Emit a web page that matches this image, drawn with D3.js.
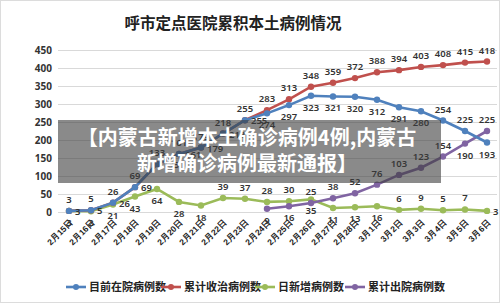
<!DOCTYPE html>
<html>
<head>
<meta charset="utf-8">
<script src="https://cdn.jsdelivr.net/npm/d3@7"></script>
<style>
  body { margin: 0; background: #fff; }
  svg { display: block; font-family: "Noto Sans CJK SC", "Noto Sans", sans-serif; }
</style>
</head>
<body>
<svg id="chart" width="500" height="303"></svg>
<script>
var dates = ["2月15日","2月16日","2月17日","2月18日","2月19日","2月20日","2月21日","2月22日","2月23日","2月24日",
             "2月25日","2月26日","2月27日","2月28日","3月1日","3月2日","3月3日","3月4日","3月5日","3月6日"];
var inHospital = [3,5,26,69,133,161,179,218,255,274,297,323,321,320,312,291,280,254,225,193];
var admitted   = [3,5,26,69,133,161,179,218,255,283,313,348,359,372,388,394,403,408,415,418];
var dailyNew   = [3,2,21,43,64,28,18,39,37,28,30,35,11,13,16,6,9,5,7,3];
var discharged = [null,null,null,null,null,null,null,null,null,9,16,25,38,52,76,103,123,154,190,225];
var yTicks = [0,50,100,150,200,250,300,350,400,450];
var seriesNames = ["目前在院病例数","累计收治病例数","日新增病例数","累计出院病例数"];
var title = "呼市定点医院累积本土病例情况";
var bannerLines = ["【内蒙古新增本土确诊病例4例,内蒙古", "新增确诊病例最新通报】"];

// where each point's label sits (u = above, d = below, r = right)
var placeBlue   = "rrrrrrrrrdddddddduud".split("");
var placeRed    = "uuuuuuuuuuuuuuuuuuuu".split("");
var placeGreen  = "ddddddduuuudddduuuur".split("");
var placePurple = "dduuuuuuudu".split("");  // only where a value exists

var colors = ["#4f81bd", "#c0504d", "#9bbb59", "#8064a2"];

var svg = d3.select("#chart"),
    width = +svg.attr("width"),
    height = +svg.attr("height");

svg.append("rect").attr("x", 0.5).attr("y", 0.5).attr("width", width - 1).attr("height", height - 1)
    .attr("fill", "#fff").attr("stroke", "#dcdcdc");

var x = d3.scalePoint().domain(dates).range([69, 487]);
var y = d3.scaleLinear().domain([0, 450]).range([212, 50]);

// title
svg.append("text").attr("x", 233).attr("y", 29).attr("text-anchor", "middle")
    .attr("font-size", 15.5).attr("font-weight", "bold").attr("fill", "#222").text(title);

// grid + y labels
var yAxis = d3.axisLeft(y).tickValues(yTicks).tickSize(-(497 - 58)).tickPadding(6);
var ga = svg.append("g").attr("transform", "translate(58,0)").call(yAxis);
ga.select(".domain").remove();
ga.selectAll(".tick line").attr("stroke", "#d9d9d9");
ga.selectAll(".tick text").attr("font-size", 10).attr("font-weight", "bold").attr("fill", "#333")
    .attr("font-family", "'Noto Sans', sans-serif");

// x labels, slanted
var xAxis = d3.axisBottom(x).tickSize(0).tickPadding(0);
var gx = svg.append("g").attr("transform", "translate(0,212)").call(xAxis);
gx.select(".domain").remove();
gx.selectAll(".tick text")
    .attr("font-size", 8.5).attr("font-weight", "bold").attr("fill", "#222")
    .attr("text-anchor", "end").attr("dy", null).attr("y", 0)
    .attr("transform", "translate(4,11) rotate(-45)");

var all = [inHospital, admitted, dailyNew, discharged];
var places = [placeBlue, placeRed, placeGreen, null];

var line = d3.line()
    .defined(function(d) { return d != null; })
    .x(function(d, i) { return x(dates[i]); })
    .y(function(d) { return y(d); });

function points(vals) {
    return vals.map(function(v, i) { return {v: v, i: i}; }).filter(function(d) { return d.v != null; });
}

[2, 3, 1, 0].forEach(function(k) {
    var g = svg.append("g");
    g.append("path").attr("d", line(all[k])).attr("fill", "none")
        .attr("stroke", colors[k]).attr("stroke-width", 2.6);
    g.selectAll("circle").data(points(all[k])).enter().append("circle")
        .attr("cx", function(d) { return x(dates[d.i]); })
        .attr("cy", function(d) { return y(d.v); })
        .attr("r", 3.2).attr("fill", colors[k]);
});

// data labels
[0, 1, 2, 3].forEach(function(k) {
    function place(d, j) { return k == 3 ? placePurple[j] : places[k][d.i]; }
    svg.append("g").selectAll("text").data(points(all[k])).enter().append("text")
        .attr("font-size", 9.5).attr("font-weight", 600).attr("fill", "#333")
        .attr("font-family", "'Noto Sans', sans-serif")
        .attr("text-anchor", function(d, j) { return place(d, j) == "r" ? "start" : "middle"; })
        .attr("x", function(d, j) { return x(dates[d.i]) + (place(d, j) == "r" ? 6 : 0); })
        .attr("y", function(d, j) {
            var p = place(d, j), cy = y(d.v);
            if (p == "u") return cy - 8;
            if (p == "d") return cy + 15;
            return cy + 4;
        })
        .text(function(d) { return d.v; });
});

// grey banner over the chart
svg.append("rect").attr("x", 58).attr("y", 120).attr("width", 383).attr("height", 63)
    .attr("fill", "rgb(60,60,60)").attr("fill-opacity", 0.6);
svg.append("g").selectAll("text").data(bannerLines).enter().append("text")
    .attr("x", 247).attr("y", function(d, i) { return 145 + i * 26; })
    .attr("text-anchor", "middle").attr("font-size", 20).attr("font-weight", "bold")
    .attr("fill", "#fff").text(function(d) { return d; });

// legend
var legendX = [66, 161, 255, 345];
var lg = svg.append("g").selectAll("g").data(seriesNames).enter().append("g")
    .attr("transform", function(d, i) { return "translate(" + legendX[i] + ",287)"; });
lg.append("line").attr("x1", 0).attr("x2", 20).attr("stroke", function(d, i) { return colors[i]; })
    .attr("stroke-width", 2.6);
lg.append("circle").attr("cx", 10).attr("r", 3).attr("fill", function(d, i) { return colors[i]; });
lg.append("text").attr("x", 23).attr("y", 4).attr("font-size", 11).attr("font-weight", "bold")
    .attr("fill", "#222").text(function(d) { return d; });
</script>
</body>
</html>
